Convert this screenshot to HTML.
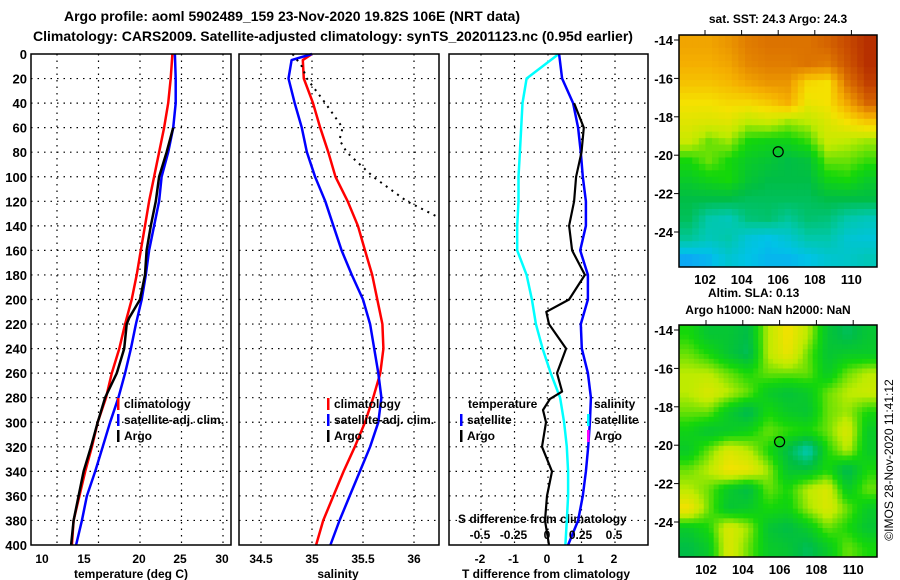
<!DOCTYPE html>
<html><head><meta charset="utf-8"><style>
html,body{margin:0;padding:0;background:#fff;}
svg{display:block;font-family:"Liberation Sans",sans-serif;font-weight:bold;}
</style></head><body>
<svg id="chart" width="900" height="580" viewBox="0 0 900 580" xmlns="http://www.w3.org/2000/svg">
<g id="static">
<text x="292" y="21" font-size="14" text-anchor="middle">Argo profile: aoml 5902489_159 23-Nov-2020 19.82S 106E (NRT data)</text>
<text x="333" y="41" font-size="14" text-anchor="middle">Climatology: CARS2009. Satellite-adjusted climatology: synTS_20201123.nc (0.95d earlier)</text>
<text x="778" y="23" font-size="12" text-anchor="middle">sat. SST: 24.3 Argo: 24.3</text>
<text x="708" y="297" font-size="12">Altim. SLA: 0.13</text>
<text x="768" y="314" font-size="12" text-anchor="middle">Argo h1000: NaN h2000: NaN</text>
<text x="0" y="0" font-size="12" font-weight="normal" text-anchor="middle" transform="translate(893,460) rotate(-90)">©IMOS 28-Nov-2020 11:41:12</text>
<text x="131" y="578" font-size="12" text-anchor="middle">temperature (deg C)</text>
<text x="338" y="578" font-size="12" text-anchor="middle">salinity</text>
<text x="546" y="578" font-size="12" text-anchor="middle">T difference from climatology</text>
<text x="458" y="523" font-size="12">S difference from climatology</text>
</g>
<g id="dyn"></g>
</svg>
<script>
// ---- data ----
const depthTicks = [0,20,40,60,80,100,120,140,160,180,200,220,240,260,280,300,320,340,360,380,400];
const tempTicks = [10,15,20,25,30];
const salTicks = [34.5,35,35.5,36];
const salTickLabels = ['34.5','35','35.5','36'];
const tdTicks = [-2,-1,0,1,2];
const sdTicks = [-0.5,-0.25,0,0.25,0.5];
const sdTickLabels = ['-0.5','-0.25','0','0.25','0.5'];
const stdDepths = [0,20,40,60,80,100,120,140,160,180,200,220,240,260,280,300,320,340,360,380,400];
const tempClim = [23.9,23.7,23.4,22.9,22.3,21.7,21.1,20.6,20.1,19.6,19.0,18.2,17.5,16.6,15.9,14.9,14.2,13.4,12.7,12.0,11.8];
const tempSat  = [24.2,24.3,24.3,24.0,23.4,22.6,22.3,21.7,21.1,20.7,20.2,19.5,18.9,18.2,17.4,16.4,15.5,14.6,13.6,13.0,12.3];
const argoDepths = [60,80,100,120,140,160,180,200,215,220,240,260,280,300,320,340,360,380,400];
const tempArgo = [24.0,23.2,22.3,21.9,21.3,20.8,20.6,20.0,18.7,18.4,18.1,17.2,15.8,14.9,14.1,13.2,12.6,12.0,11.7];
const salDepths = [0,5,20,40,60,80,100,120,140,160,180,200,220,240,260,280,300,320,340,360,380,400];
const salClim = [35.0,34.91,34.92,35.01,35.08,35.16,35.23,35.35,35.45,35.52,35.59,35.64,35.69,35.70,35.67,35.60,35.52,35.42,35.31,35.21,35.11,35.04];
const salSat  = [35.0,34.80,34.77,34.83,34.90,34.95,35.03,35.13,35.21,35.29,35.39,35.50,35.57,35.61,35.65,35.68,35.65,35.57,35.47,35.37,35.27,35.18];
const salArgoDepths = [0,10,20,40,60,70,80,100,120,133];
const salArgo = [34.81,34.9,34.95,35.13,35.30,35.27,35.34,35.60,35.93,36.24];
const tdSat = [0.33,0.42,0.75,0.90,0.98,1.04,1.13,1.13,0.96,1.19,1.19,0.98,1.01,1.19,1.28,1.25,1.20,1.13,1.04,0.90,0.60];
const tdArgoDepths = [40,60,80,100,120,140,160,180,200,210,220,240,260,275,281,290,300,320,340,360,380,400];
const tdArgo = [0.78,1.07,1.0,0.84,0.78,0.63,0.72,1.1,0.63,-0.05,0.03,0.54,0.27,0.42,0.06,-0.15,-0.06,-0.18,0.12,-0.03,-0.09,0.03];
const sdSat = [0.08,-0.16,-0.19,-0.20,-0.21,-0.22,-0.22,-0.23,-0.23,-0.16,-0.12,-0.09,-0.04,0.02,0.09,0.12,0.14,0.15,0.15,0.14,0.13];
const sdSatDepths = [0,20,40,60,80,100,120,140,160,180,200,220,240,260,280,300,320,340,360,380,400];
const mapLatTicks = [-14,-16,-18,-20,-22,-24];
const mapLonTicks = [102,104,106,108,110];
const argoLat = -19.82, argoLon = 106;
const sstGrid = [
[0.72,0.72,0.75,0.8,0.82,0.82,0.82,0.85,0.9,0.95],
[0.7,0.7,0.72,0.78,0.8,0.8,0.82,0.8,0.88,0.95],
[0.66,0.66,0.68,0.72,0.75,0.75,0.62,0.6,0.82,0.92],
[0.6,0.6,0.62,0.62,0.65,0.7,0.58,0.6,0.72,0.85],
[0.56,0.55,0.56,0.5,0.52,0.48,0.5,0.55,0.6,0.65],
[0.52,0.45,0.48,0.4,0.38,0.38,0.42,0.52,0.5,0.48],
[0.4,0.45,0.4,0.35,0.33,0.3,0.32,0.45,0.45,0.42],
[0.35,0.38,0.4,0.33,0.3,0.3,0.3,0.38,0.4,0.35],
[0.3,0.3,0.3,0.28,0.28,0.28,0.28,0.3,0.3,0.3],
[0.28,0.2,0.18,0.25,0.26,0.22,0.26,0.25,0.2,0.18],
[0.22,0.18,0.2,0.14,0.12,0.15,0.2,0.2,0.15,0.14],
[0.08,0.1,0.15,0.12,0.1,0.1,0.12,0.15,0.16,0.18]];
const slaGrid = [
[0.4,0.33,0.33,0.3,0.5,0.6,0.5,0.33,0.28,0.33],
[0.45,0.4,0.33,0.28,0.5,0.58,0.45,0.33,0.35,0.35],
[0.5,0.5,0.45,0.4,0.45,0.45,0.45,0.35,0.45,0.5],
[0.5,0.55,0.5,0.45,0.35,0.32,0.35,0.45,0.5,0.52],
[0.45,0.45,0.35,0.28,0.4,0.35,0.33,0.45,0.48,0.4],
[0.38,0.33,0.35,0.38,0.45,0.42,0.4,0.45,0.55,0.35],
[0.35,0.45,0.55,0.5,0.4,0.3,0.18,0.4,0.5,0.35],
[0.45,0.5,0.6,0.58,0.48,0.33,0.32,0.4,0.28,0.4],
[0.5,0.45,0.35,0.3,0.45,0.4,0.5,0.55,0.35,0.45],
[0.6,0.45,0.33,0.35,0.4,0.38,0.48,0.55,0.45,0.35],
[0.35,0.4,0.55,0.48,0.33,0.3,0.35,0.45,0.4,0.33],
[0.3,0.35,0.55,0.45,0.35,0.33,0.28,0.35,0.45,0.4]];

// ---- helpers ----
const NS='http://www.w3.org/2000/svg';
const root=document.getElementById('dyn');
function mk(tag,attrs,parent){const e=document.createElementNS(NS,tag);for(const k in attrs)e.setAttribute(k,attrs[k]);(parent||root).appendChild(e);return e;}
const TOP=54,BOT=545;
const yD=d=>TOP+d*(BOT-TOP)/400;
const xT=t=>57+(t-10)*8.3;
const xS=s=>312+(s-35)*102;
const xTD=v=>548+v*33.5;
const xSD=v=>548+v*134;
const panels=[{x0:31,x1:231,name:'temperature'},{x0:239,x1:439,name:'salinity'},{x0:449,x1:648,name:'difference'}];

function grid(p,xs){
  depthTicks.forEach((d,i)=>{if(i===0||i===depthTicks.length-1)return;
    const l=mk('line',{x1:p.x0,x2:p.x1,y1:yD(d),y2:yD(d),stroke:'#000','stroke-dasharray':'1.5,5','stroke-width':1.2});
    
    });
  xs.forEach(x=>{if(x<=p.x0+1||x>=p.x1-1)return;
    const l=mk('line',{x1:x,x2:x,y1:TOP,y2:BOT,stroke:'#000','stroke-dasharray':'1.5,5','stroke-width':1.2});
    
    });
}
grid(panels[0],tempTicks.map(xT));
grid(panels[1],salTicks.map(xS));
grid(panels[2],tdTicks.map(xTD));

function line(depths,vals,fx,color,name,w,dash){
  const pts=vals.map((v,i)=>fx(v).toFixed(1)+','+yD(depths[i]).toFixed(1)).join(' ');
  const a={points:pts,fill:'none',stroke:color,'stroke-width':w||2.5,'stroke-linejoin':'round'};
  if(dash)a['stroke-dasharray']=dash;
  const e=mk('polyline',a);
  
  
}
line(stdDepths,tempClim,xT,'#f00','temperature-climatology-line');
line(stdDepths,tempSat,xT,'#00f','temperature-satellite-line');
line(argoDepths,tempArgo,xT,'#000','temperature-argo-line');
line(salDepths,salClim,xS,'#f00','salinity-climatology-line');
line(salDepths,salSat,xS,'#00f','salinity-satellite-line');
line(salArgoDepths,salArgo,xS,'#000','salinity-argo-line',2,'2,5');
line(sdSatDepths,sdSat,xSD,'#0ff','sdiff-satellite-line');
line(stdDepths,tdSat,xTD,'#00f','tdiff-satellite-line');
line(tdArgoDepths,tdArgo,xTD,'#000','tdiff-argo-line',2.2);

panels.forEach(p=>{const r=mk('rect',{x:p.x0,y:TOP,width:p.x1-p.x0,height:BOT-TOP,fill:'none',stroke:'#000','stroke-width':1.5});
  
  });

function txt(x,y,s,size,anchor,name){const t=mk('text',{x:x,y:y,'font-size':size,'text-anchor':anchor||'start'});t.textContent=s;
  
  return t;}
depthTicks.forEach(d=>txt(27,yD(d)+5,String(d),13,'end','depth-tick-label'));
tempTicks.forEach((t,i)=>txt([42,84,139,180,222][i],563,String(t),12,'middle','temperature-tick-label'));
salTicks.forEach((s,i)=>txt(xS(s),563,salTickLabels[i],12,'middle','salinity-tick-label'));
tdTicks.forEach(v=>txt(xTD(v)-1,563,String(v),12,'middle','tdiff-tick-label'));
sdTicks.forEach((v,i)=>txt(xSD(v)-1,539,sdTickLabels[i],12,'middle','sdiff-tick-label'));

function legend(x,y,color,label,name,h){
  const m=mk('rect',{x:x,y:y-10,width:2.5,height:h||12,fill:color});
  
  
  txt(x+7,y,label,12,'start',name+'-label');
}
legend(117,408,'#f00','climatology','temp-legend-climatology');
legend(117,424,'#00f','satellite-adj. clim.','temp-legend-satellite');
legend(117,440,'#000','Argo','temp-legend-argo');
legend(327,408,'#f00','climatology','sal-legend-climatology');
legend(327,424,'#00f','satellite-adj. clim.','sal-legend-satellite');
legend(327,440,'#000','Argo','sal-legend-argo');
txt(468,408,'temperature',12,'start','diff-legend-temperature-heading');
legend(460,424,'#00f','satellite','diff-legend-t-satellite');
legend(460,440,'#000','Argo','diff-legend-t-argo');
txt(594,408,'salinity',12,'start','diff-legend-salinity-heading');
legend(587,424,'#0ff','satellite','diff-legend-s-satellite');
legend(587,440,'#f0f','Argo','diff-legend-s-argo');

// ---- maps ----
const stops=[[0.05,[20,150,255]],[0.12,[0,195,230]],[0.2,[0,200,170]],[0.3,[0,190,70]],[0.4,[20,215,10]],[0.5,[190,235,0]],[0.6,[245,225,0]],[0.7,[245,175,0]],[0.8,[225,125,0]],[0.9,[200,75,0]],[1.0,[165,20,0]]];
function cmap(v){if(v<=stops[0][0])return 'rgb('+stops[0][1]+')';
  for(let i=1;i<stops.length;i++){if(v<=stops[i][0]){const a=stops[i-1],b=stops[i],f=(v-a[0])/(b[0]-a[0]);
    return 'rgb('+a[1].map((c,k)=>Math.round(c+(b[1][k]-c)*f)).join(',')+')';}}
  return 'rgb('+stops[stops.length-1][1]+')';}
function sample(g,r,c){ // bilinear sample, r,c in cell-centre coordinates
  const R=g.length,C=g[0].length;
  r=Math.max(0,Math.min(R-1,r));c=Math.max(0,Math.min(C-1,c));
  const r0=Math.floor(r),c0=Math.floor(c),r1=Math.min(R-1,r0+1),c1=Math.min(C-1,c0+1),fr=r-r0,fc=c-c0;
  return g[r0][c0]*(1-fr)*(1-fc)+g[r0][c1]*(1-fr)*fc+g[r1][c0]*fr*(1-fc)+g[r1][c1]*fr*fc;
}
function drawMap(m){
  const rows=m.grid.length,cols=m.grid[0].length,UP=m.up;
  const NR=rows*UP,NC=cols*UP,cw=(m.x1-m.x0)/NC,ch=(m.y1-m.y0)/NR;
  for(let r=0;r<NR;r++)for(let c=0;c<NC;c++){
    const v=sample(m.grid,(r+0.5)/UP-0.5,(c+0.5)/UP-0.5);
    const e=mk('rect',{x:(m.x0+c*cw).toFixed(2),y:(m.y0+r*ch).toFixed(2),width:(cw+0.5).toFixed(2),height:(ch+0.5).toFixed(2),fill:cmap(v)});
    
    
  }
  const f=mk('rect',{x:m.x0,y:m.y0,width:m.x1-m.x0,height:m.y1-m.y0,fill:'none',stroke:'#000','stroke-width':1.5});
  
  
  const lx=lon=>m.lon102+(lon-102)*m.dlon, ly=lat=>m.lat14+(-14-lat)*m.dlat;
  mapLatTicks.forEach(lat=>{txt(m.x0-6,ly(lat)+5,String(lat),13,'end',m.name+'-lat-label');
    const t=mk('line',{x1:m.x0-5,x2:m.x0,y1:ly(lat),y2:ly(lat),stroke:'#000','stroke-width':1});
    
    });
  mapLonTicks.forEach(lon=>{txt(lx(lon),m.y1+17,String(lon),13,'middle',m.name+'-lon-label');
    const t=mk('line',{x1:lx(lon),x2:lx(lon),y1:m.y0-5,y2:m.y0,stroke:'#000','stroke-width':1});
    
    });
  const c=mk('circle',{cx:lx(argoLon),cy:ly(argoLat),r:5,fill:'none',stroke:'#000','stroke-width':1.2});
  
  
}
drawMap({grid:sstGrid,up:3,x0:679,x1:877,y0:35,y1:267,lon102:705,dlon:18.3,lat14:40,dlat:19.2,name:'sst-map'});
drawMap({grid:slaGrid,up:4,x0:679,x1:877,y0:325,y1:557,lon102:706,dlon:18.4,lat14:330,dlat:19.2,name:'sla-map'});
</script>
</body></html>
